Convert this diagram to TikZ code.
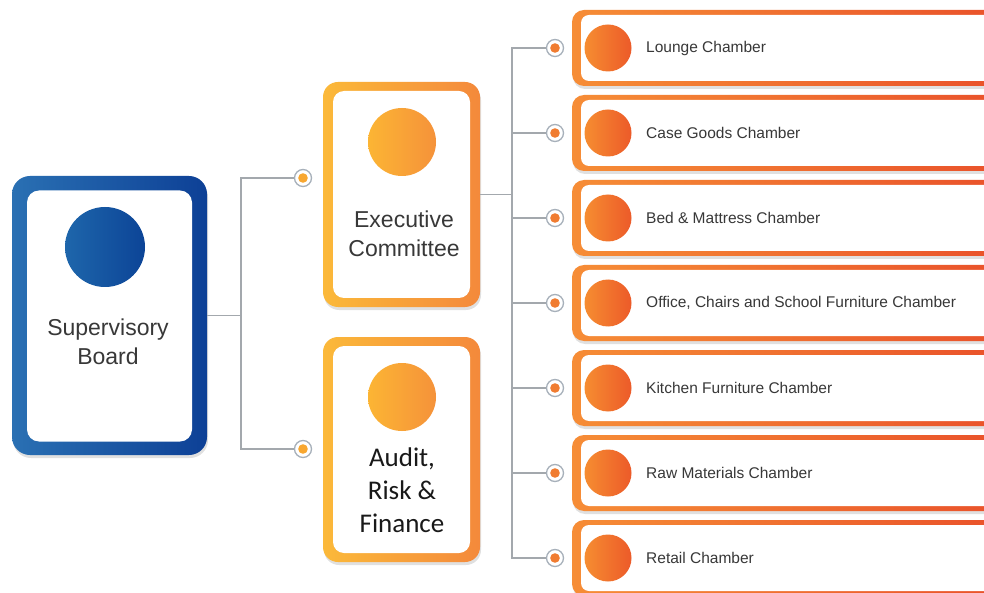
\documentclass[tikz,border=0pt]{standalone}
\usepackage{fontspec}
\setmainfont{Liberation Sans}
\newfontfamily\calib{Carlito}
\usetikzlibrary{shadows}
\definecolor{sbL}{HTML}{2A70B3}
\definecolor{sbR}{HTML}{0D4096}
\definecolor{sbcL}{HTML}{1E66AB}
\definecolor{sbcR}{HTML}{0C4497}
\definecolor{exL}{HTML}{FBB93A}
\definecolor{exR}{HTML}{F4893B}
\definecolor{excL}{HTML}{FCB534}
\definecolor{excR}{HTML}{F5923A}
\definecolor{chL}{HTML}{F68D36}
\definecolor{chR}{HTML}{E9502A}
\definecolor{chcL}{HTML}{F68D31}
\definecolor{chcR}{HTML}{EC5A29}
\definecolor{lineg}{HTML}{A3A8AD}
\definecolor{dotring}{HTML}{A7B0BA}
\definecolor{dotYcol}{HTML}{F8A730}
\definecolor{dotOcol}{HTML}{F07C31}
\definecolor{txt}{HTML}{383838}
\tikzset{
  softshadow/.style={drop shadow={shadow xshift=1pt, shadow yshift=-3pt, opacity=0.12, fill=black}},
  sbframe/.style={rectangle, inner sep=0pt, minimum width=195pt, minimum height=279pt, rounded corners=18pt, left color=sbL, right color=sbR, softshadow},
  sbinner/.style={rectangle, inner sep=0pt, fill=white, minimum width=165pt, minimum height=251pt, rounded corners=12pt},
  sbdisc/.style={circle, inner sep=0pt, minimum size=80pt, left color=sbcL, right color=sbcR},
  exframe/.style={rectangle, inner sep=0pt, minimum width=157pt, minimum height=225pt, rounded corners=15pt, left color=exL, right color=exR, softshadow},
  exinner/.style={rectangle, inner sep=0pt, fill=white, minimum width=137pt, minimum height=207pt, rounded corners=11pt},
  exdisc/.style={circle, inner sep=0pt, minimum size=68pt, left color=excL, right color=excR},
  chframe/.style={rectangle, inner sep=0pt, minimum width=440pt, minimum height=76pt, rounded corners=12pt, left color=chL, right color=chR, softshadow},
  chinner/.style={rectangle, inner sep=0pt, fill=white, minimum width=430pt, minimum height=66pt, rounded corners=8pt},
  chdisc/.style={circle, inner sep=0pt, minimum size=47pt, left color=chcL, right color=chcR},
  bigtext/.style={text=txt, align=center, font=\fontsize{23}{29}\selectfont, inner sep=0pt},
  audtext/.style={text=black!90, align=center, font=\calib\fontsize{27}{33}\selectfont, inner sep=0pt},
  chtext/.style={text=txt, anchor=west, font=\fontsize{15.5}{18}\selectfont, inner sep=0pt},
  conn/.style={draw=lineg, line width=1.4pt},
  dotY/.style={circle, inner sep=0pt, minimum size=17pt, draw=dotring, line width=1.3pt, fill=white, path picture={\fill[dotYcol] (path picture bounding box.center) circle (4.8pt);}},
  dotO/.style={circle, inner sep=0pt, minimum size=17pt, draw=dotring, line width=1.3pt, fill=white, path picture={\fill[dotOcol] (path picture bounding box.center) circle (4.8pt);}}
}
\begin{document}
\begin{tikzpicture}[x=1pt,y=-1pt]
\clip (0,0) rectangle (984,593);
\fill[white] (0,0) rectangle (984,593);

% Supervisory Board
\node[sbframe] (sb) at (109.5,315.5) {};
\node[sbinner] (sbin) at (109.5,316) {};
\node[sbdisc] (sbc) at (105,247) {};
\node[bigtext] (sbt) at (108,342) {Supervisory\\Board};

% Executive Committee
\node[exframe] (ex) at (401.5,194.5) {};
\node[exinner] (exin) at (401.5,194.5) {};
\node[exdisc] (exc) at (402,142) {};
\node[bigtext] (ext) at (404,234) {Executive\\Committee};

% Audit, Risk & Finance
\node[exframe] (au) at (401.5,449.5) {};
\node[exinner] (auin) at (401.5,449.5) {};
\node[exdisc] (auc) at (402,397) {};
\node[audtext] (aut) at (402,490) {Audit,\\Risk \&\\Finance};

% Chambers
\foreach \i/\t in {0/Lounge Chamber, 1/Case Goods Chamber, 2/Bed \& Mattress Chamber, 3/{Office, Chairs and School Furniture Chamber}, 4/Kitchen Furniture Chamber, 5/Raw Materials Chamber, 6/Retail Chamber}{
  \pgfmathsetmacro\yc{48+85*\i}
  \node[chframe] (ch\i) at (792,\yc) {};
  \node[chinner] (chin\i) at (796,\yc) {};
  \node[chdisc] (chc\i) at (608,\yc) {};
  \node[chtext] (cht\i) at (646,\yc) {\t};
  \node[dotO] (cd\i) at (555,\yc) {};
}

% left dots
\node[dotY] (d1) at (303,178) {};
\node[dotY] (d2) at (303,449) {};

% junction coordinates
\coordinate (j1) at (241,315.5);
\coordinate (j2) at (512,194.5);

% connectors
\draw[conn] (sb.east) -- (j1);
\draw[conn] (d1.west) -| (j1) |- (d2.west);
\draw[conn] (ex.east) -- (j2);
\draw[conn] (cd0.west) -| (j2) |- (cd6.west);
\foreach \i in {1,...,5}{
  \draw[conn] (cd\i.west) -- (cd\i.west -| j2);
}
\end{tikzpicture}
\end{document}
